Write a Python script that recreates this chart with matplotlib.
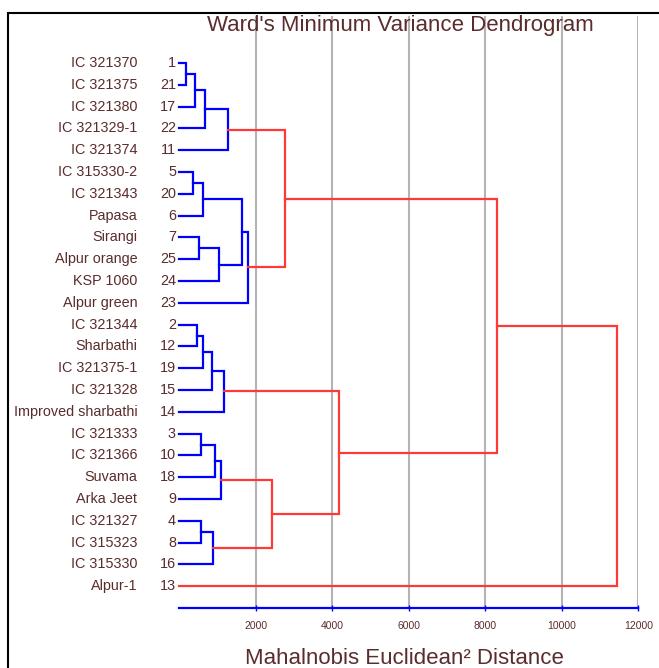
import matplotlib
matplotlib.use('Agg')
import matplotlib.pyplot as plt
from matplotlib.patches import Rectangle

# leaves, top to bottom
leaf_ids = [1, 21, 17, 22, 11, 5, 20, 6, 7, 25, 24, 23, 2, 12, 19, 15, 14,
            3, 10, 18, 9, 4, 8, 16, 13]
leaf_names = ['IC 321370', 'IC 321375', 'IC 321380', 'IC 321329-1', 'IC 321374',
              'IC 315330-2', 'IC 321343', 'Papasa', 'Sirangi', 'Alpur orange',
              'KSP 1060', 'Alpur green', 'IC 321344', 'Sharbathi', 'IC 321375-1',
              'IC 321328', 'Improved sharbathi', 'IC 321333', 'IC 321366', 'Suvama',
              'Arka Jeet', 'IC 321327', 'IC 315323', 'IC 315330', 'Alpur-1']

# merges, linkage style: row index 0..24 = leaf, 25+ = merged cluster
merge_a = [0, 25, 26, 27, 5, 29, 8, 31, 30, 33, 28, 12, 36, 37, 38, 17, 40, 41, 21, 43, 42, 39, 35, 47]
merge_b = [1, 2, 3, 4, 6, 7, 9, 10, 32, 11, 34, 13, 14, 15, 16, 18, 19, 20, 22, 23, 44, 45, 46, 24]
merge_h = [160, 405, 667, 1260, 345, 623, 518, 1034, 1645, 1800, 2762, 450, 623, 859, 1165,
           563, 929, 1086, 555, 885, 2430, 4175, 8310, 11450]

xticks = [2000, 4000, 6000, 8000, 10000, 12000]
color_cut = 2000

txt_color = '#5b2c2c'
font = 'Liberation Sans'

fig = plt.figure(figsize=(6.59, 6.68), dpi=100)
ax = fig.add_axes([179.5 / 659, 60 / 668, (638.3 - 179.5) / 659, 592 / 668])

n = len(leaf_ids)
pos = {i: float(i) for i in range(n)}
height = {i: 0.0 for i in range(n)}
for k, (a, b, h) in enumerate(zip(merge_a, merge_b, merge_h)):
    c = 'blue' if h < color_cut else '#ff3838'
    ax.plot([height[a], h, h, height[b]], [pos[a], pos[a], pos[b], pos[b]],
            color=c, lw=1.6, solid_joinstyle='miter', zorder=3, clip_on=False)
    pos[n + k] = (pos[a] + pos[b]) / 2
    height[n + k] = h

for x in xticks:
    ax.axvline(x, color='#b4b4b4', lw=1.5, zorder=1)

for i, (lid, name) in enumerate(zip(leaf_ids, leaf_names)):
    ax.text(-92, i, str(lid), ha='right', va='center', fontsize=10.4,
            color=txt_color, family=font, clip_on=False)
    ax.text(-1100, i, name, ha='right', va='center', fontsize=10.4,
            color=txt_color, family=font, clip_on=False)

ax.set_xlim(0, 12000)
ax.set_ylim(25, -2.16)
for s in ['top', 'right', 'left']:
    ax.spines[s].set_visible(False)
ax.spines['bottom'].set_color('blue')
ax.spines['bottom'].set_linewidth(1.6)
ax.set_yticks([])
ax.set_xticks(xticks)
ax.set_xticklabels([str(x) for x in xticks], fontsize=7.5, color=txt_color, family=font)
ax.tick_params(axis='x', direction='inout', length=5, width=1, color='blue', pad=7)

fig.text(400 / 659, 1 - 25 / 668, "Ward's Minimum Variance Dendrogram", ha='center',
         va='center', fontsize=16, color=txt_color, family=font)
fig.text(404 / 659, 1 - 659 / 668, 'Mahalnobis Euclidean\u00b2 Distance', ha='center',
         va='center', fontsize=16, color=txt_color, family=font)

fig.add_artist(Rectangle((8 / 659, -0.05), 1.1, 0.05 + 1 - 13 / 668, transform=fig.transFigure,
                         fill=False, edgecolor='black', lw=1.5))

fig.savefig('out.png', dpi=100)
